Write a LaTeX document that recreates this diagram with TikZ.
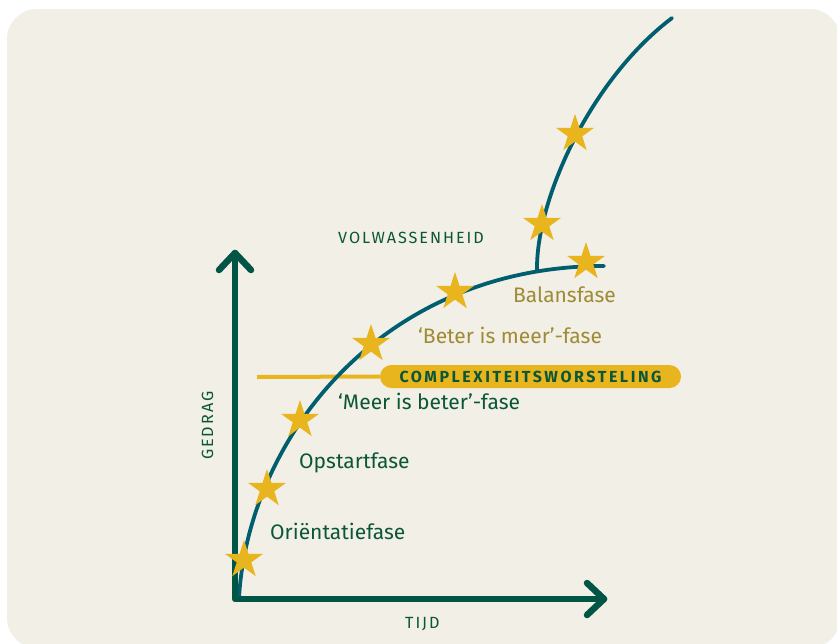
\documentclass[tikz,border=0pt]{standalone}
\usepackage{fontspec}
\setmainfont{Fira Sans}
\newfontfamily\spacedfont[LetterSpace=12]{Fira Sans}
\newfontfamily\widefont[LetterSpace=16]{Fira Sans}
\usetikzlibrary{shapes.geometric,calc}

\definecolor{paper}{RGB}{242,239,231}
\definecolor{axisgreen}{RGB}{0,85,68}
\definecolor{curveteal}{RGB}{0,94,110}
\definecolor{staryellow}{RGB}{233,181,30}
\definecolor{textgreen}{RGB}{12,86,56}
\definecolor{olive}{RGB}{158,139,52}

\tikzset{
  axisline/.style={draw=axisgreen, line width=6.5pt, line cap=round, line join=round},
  growth/.style={draw=curveteal, line width=3.8pt, line cap=round},
  starmark/.style={star, star points=5, star point ratio=2.618, fill=staryellow,
    minimum size=40pt, inner sep=0pt},
  phase/.style={anchor=base west, inner sep=0pt, text=textgreen,
    font=\fontsize{21}{25}\selectfont},
  phaseolive/.style={phase, text=olive},
  axislabel/.style={anchor=base west, inner sep=0pt, text=textgreen,
    font=\spacedfont\fontsize{16.2}{19}\selectfont},
  pill/.style={fill=staryellow, rounded corners=11.5pt, minimum width=301pt,
    minimum height=23pt, inner sep=0pt, text=textgreen,
    font=\widefont\bfseries\fontsize{16}{19}\selectfont},
  yline/.style={draw=staryellow, line width=4pt},
}

\begin{document}
\begin{tikzpicture}[x=1pt,y=-1pt]
\useasboundingbox (0,0) rectangle (837,643);
\fill[white] (0,0) rectangle (837,643);
\fill[paper, rounded corners=30pt] (7,9) rectangle (840,648);

% key points of the axes
\coordinate (origin) at (235,599);
\coordinate (ytop) at (235,253);
\coordinate (xend) at (604,599);

% complexity band line and label
\node[pill] (struggle) at (530.5,376.5) {COMPLEXITEITSWORSTELING};
\coordinate (bandstart) at (257,377);
\draw[yline] (bandstart) -- (struggle.west);

% growth curve with its later branch
\coordinate (start) at (239,598);
\coordinate (branch) at (537,270);
\coordinate (flatend) at (604,266);
\coordinate (topend) at (672,18);
\draw[growth] (start) .. controls (248,440) and (380,266) .. (flatend);
\draw[growth] (branch) .. controls (536,200) and (590,80) .. (topend);

% axes
\draw[axisline] (ytop) -- (origin) -- (xend);
\draw[axisline] ($(ytop)+(-16,17)$) -- (ytop) -- ($(ytop)+(16,17)$);
\draw[axisline] ($(xend)+(-17,-16)$) -- (xend) -- ($(xend)+(-17,16)$);

% milestones on the curve
\node[starmark] (st1) at (244,560) {};
\node[starmark] (st2) at (267,489) {};
\node[starmark] (st3) at (300,420) {};
\node[starmark] (st4) at (371,344) {};
\node[starmark] (st5) at (455,292) {};
\node[starmark] (st6) at (586,262) {};
\node[starmark] (st7) at (542,224) {};
\node[starmark] (st8) at (575,134) {};

% labels
\node[phase] (orient) at (270,539) {Oriëntatiefase};
\node[phase] (startup) at (299,468.5) {Opstartfase};
\node[phase] (more) at (338,409) {‘Meer is beter’-fase};
\node[phaseolive] (better) at (418,343) {‘Beter is meer’-fase};
\node[phaseolive] (balance) at (513,302) {Balansfase};
\node[axislabel] (mature) at (338,243) {VOLWASSENHEID};
\node[axislabel] (time) at (405,628) {TIJD};
\node[axislabel, rotate=90] (behaviour) at (213,460) {GEDRAG};
\end{tikzpicture}
\end{document}
